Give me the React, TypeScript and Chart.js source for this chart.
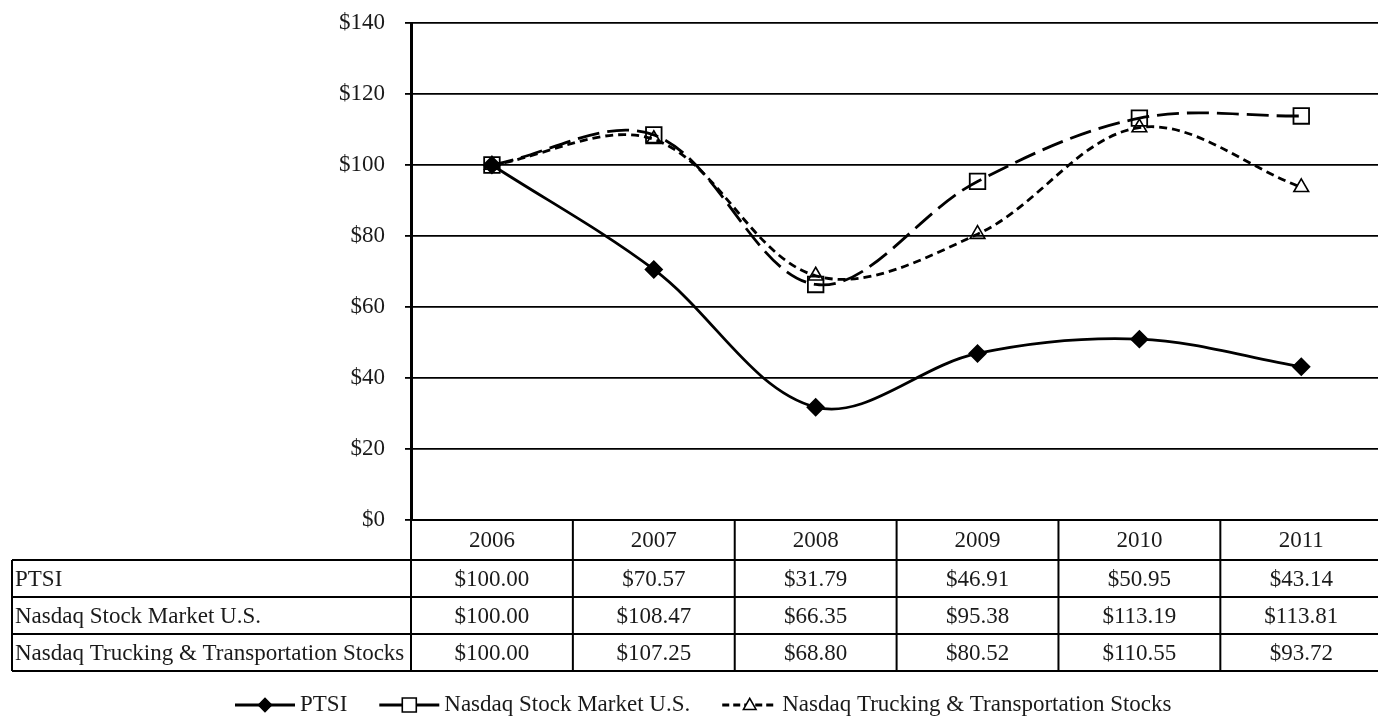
import { useEffect, useRef } from "react";
import { Chart, registerables } from "chart.js";

Chart.register(...registerables);

const years = ["2006", "2007", "2008", "2009", "2010", "2011"];
const seriesNames = ["PTSI", "Nasdaq Stock Market U.S.", "Nasdaq Trucking & Transportation Stocks"];
const ptsi = [100.0, 70.57, 31.79, 46.91, 50.95, 43.14];
const nasdaqMarket = [100.0, 108.47, 66.35, 95.38, 113.19, 113.81];
const nasdaqTrucking = [100.0, 107.25, 68.8, 80.52, 110.55, 93.72];
const yMin = 0;
const yMax = 140;
const yStep = 20;

const FONT = "Liberation Serif";
const TEXT = "#1a1a1a";
const FS = 23;
const W = 1395;
const H = 718;

const styles = [
  { marker: "diamond", r: 6.5, fill: true },
  { marker: "square", r: 7, fill: false },
  { marker: "triangle", r: 7, fill: false },
];

function drawMarker(ctx: CanvasRenderingContext2D, kind: string, x: number, y: number, r: number, fill: boolean) {
  ctx.save();
  ctx.setLineDash([]);
  ctx.beginPath();
  if (kind === "diamond") {
    ctx.moveTo(x - r, y);
    ctx.lineTo(x, y - r);
    ctx.lineTo(x + r, y);
    ctx.lineTo(x, y + r);
    ctx.closePath();
  } else if (kind === "square") {
    ctx.rect(x - r, y - r, 2 * r, 2 * r);
  } else {
    const h = r * 1.6;
    ctx.moveTo(x, y - h * 0.6);
    ctx.lineTo(x + r * 0.9, y + h * 0.4);
    ctx.lineTo(x - r * 0.9, y + h * 0.4);
    ctx.closePath();
  }
  ctx.fillStyle = fill ? "#000" : "#fff";
  ctx.fill();
  ctx.lineWidth = 1.6;
  ctx.strokeStyle = "#000";
  ctx.stroke();
  ctx.restore();
}

const tablePlugin = {
  id: "dataTable",
  afterDraw(chart: any) {
    const ctx: CanvasRenderingContext2D = chart.ctx;
    const xs = chart.scales.x;
    const area = chart.chartArea;
    const colW = xs.getPixelForValue(1) - xs.getPixelForValue(0);
    const left = 12;
    const right = xs.getPixelForValue(years.length - 1) + colW / 2;
    const top = area.bottom;
    const rowTops = [top, top + 40, top + 77, top + 114, top + 151];
    const all = [ptsi, nasdaqMarket, nasdaqTrucking];

    ctx.save();
    ctx.strokeStyle = "#000";
    ctx.lineWidth = 2;
    ctx.beginPath();
    ctx.moveTo(area.left, rowTops[0]);
    ctx.lineTo(right, rowTops[0]);
    for (let i = 1; i < rowTops.length; i++) {
      ctx.moveTo(left, rowTops[i]);
      ctx.lineTo(right, rowTops[i]);
    }
    ctx.moveTo(left, rowTops[1]);
    ctx.lineTo(left, rowTops[4]);
    for (let i = 0; i <= years.length; i++) {
      const bx = xs.getPixelForValue(0) - colW / 2 + i * colW;
      ctx.moveTo(bx, rowTops[0]);
      ctx.lineTo(bx, rowTops[4]);
    }
    ctx.stroke();

    ctx.fillStyle = TEXT;
    ctx.font = `${FS}px "${FONT}"`;
    ctx.textBaseline = "middle";
    ctx.textAlign = "center";
    years.forEach((yr, i) => {
      ctx.fillText(yr, xs.getPixelForValue(i), (rowTops[0] + rowTops[1]) / 2 + 1);
    });
    all.forEach((vals, r) => {
      const cy = (rowTops[r + 1] + rowTops[r + 2]) / 2 + 1;
      ctx.textAlign = "left";
      ctx.fillText(seriesNames[r], left + 3, cy);
      ctx.textAlign = "center";
      vals.forEach((v, i) => {
        ctx.fillText("$" + v.toFixed(2), xs.getPixelForValue(i), cy);
      });
    });

    // legend
    let lx = 235;
    const ly = 705;
    seriesNames.forEach((name, i) => {
      const st = styles[i];
      const segW = i === 2 ? 55 : 60;
      ctx.save();
      ctx.strokeStyle = "#000";
      ctx.lineWidth = 2.8;
      ctx.setLineDash(i === 2 ? [7, 4] : []);
      ctx.beginPath();
      ctx.moveTo(lx, ly);
      ctx.lineTo(lx + segW, ly);
      ctx.stroke();
      ctx.restore();
      drawMarker(ctx, st.marker, lx + segW / 2, ly, st.r, st.fill);
      ctx.textAlign = "left";
      ctx.fillStyle = TEXT;
      ctx.fillText(name, lx + segW + 5, ly);
      lx += segW + 5 + ctx.measureText(name).width + 32;
    });
    ctx.restore();
  },
};

export default function App() {
  const ref = useRef<HTMLCanvasElement | null>(null);
  useEffect(() => {
    if (!ref.current) return;
    const chart = new Chart(ref.current, {
      type: "line",
      data: {
        labels: years,
        datasets: [
          {
            label: seriesNames[0],
            data: ptsi,
            borderColor: "#000",
            borderWidth: 2.8,
            pointStyle: "rectRot",
            pointRadius: 7.5,
            pointBackgroundColor: "#000",
            pointBorderColor: "#000",
            tension: 0.35,
          },
          {
            label: seriesNames[1],
            data: nasdaqMarket,
            borderColor: "#000",
            borderWidth: 2.8,
            borderDash: [22, 8],
            pointStyle: "rect",
            pointRadius: 11,
            pointBorderWidth: 1.8,
            pointBackgroundColor: "rgba(0,0,0,0)",
            pointBorderColor: "#000",
            tension: 0.35,
          },
          {
            label: seriesNames[2],
            data: nasdaqTrucking,
            borderColor: "#000",
            borderWidth: 2.8,
            borderDash: [8, 5],
            pointStyle: "triangle",
            pointRadius: 8.5,
            pointBorderWidth: 1.6,
            pointBackgroundColor: "rgba(0,0,0,0)",
            pointBorderColor: "#000",
            tension: 0.35,
          },
        ],
      },
      options: {
        responsive: false,
        animation: false,
        layout: { padding: { top: 23, right: 6, bottom: 198, left: 0 } },
        plugins: { legend: { display: false }, tooltip: { enabled: false } },
        scales: {
          x: { display: false, offset: true },
          y: {
            min: yMin,
            max: yMax,
            ticks: {
              stepSize: yStep,
              color: TEXT,
              padding: 20,
              font: { family: FONT, size: FS },
              callback: (v: any) => "$" + v,
            },
            grid: { color: "#000", lineWidth: 1.8, tickLength: 6, drawTicks: true },
            border: { display: true, color: "#000", width: 3 },
            afterFit: (s: any) => {
              s.width = 411;
              s.paddingTop = 0;
              s.paddingBottom = 0;
            },
          },
        },
      },
      plugins: [tablePlugin],
    });
    return () => chart.destroy();
  }, []);
  return (
    <div style={{ position: "fixed", left: 0, top: 0, width: W, height: H, background: "#fff" }}>
      <canvas ref={ref} width={W} height={H} style={{ width: W, height: H, display: "block" }} />
    </div>
  );
}
